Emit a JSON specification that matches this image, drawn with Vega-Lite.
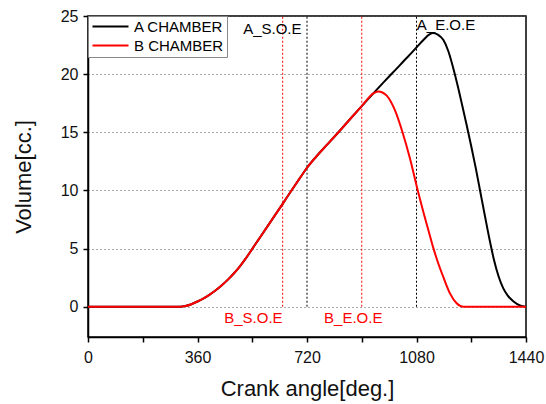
{
  "$schema": "https://vega.github.io/schema/vega-lite/v6.json",
  "width": 438,
  "height": 321,
  "autosize": "none",
  "padding": {"left": 88, "top": 16, "right": 20, "bottom": 67},
  "background": "white",
  "config": {
    "font": "Liberation Sans",
    "view": {"stroke": "black", "strokeWidth": 1.5},
    "axis": {
      "domainColor": "black",
      "domainWidth": 1.5,
      "tickColor": "black",
      "tickWidth": 1.5,
      "tickSize": 5,
      "labelFont": "Liberation Sans",
      "labelFontSize": 16,
      "labelColor": "#111",
      "titleFont": "Liberation Sans",
      "titleFontSize": 22,
      "titleFontWeight": "normal",
      "titleColor": "#111"
    }
  },
  "datasets": {
    "curves": [
      {"angle": 0, "volume": 0, "series": "A CHAMBER"},
      {"angle": 302, "volume": 0, "series": "A CHAMBER"},
      {"angle": 320, "volume": 0.06, "series": "A CHAMBER"},
      {"angle": 340, "volume": 0.22, "series": "A CHAMBER"},
      {"angle": 360, "volume": 0.45, "series": "A CHAMBER"},
      {"angle": 380, "volume": 0.72, "series": "A CHAMBER"},
      {"angle": 400, "volume": 1.05, "series": "A CHAMBER"},
      {"angle": 420, "volume": 1.42, "series": "A CHAMBER"},
      {"angle": 440, "volume": 1.85, "series": "A CHAMBER"},
      {"angle": 460, "volume": 2.33, "series": "A CHAMBER"},
      {"angle": 480, "volume": 2.88, "series": "A CHAMBER"},
      {"angle": 500, "volume": 3.5, "series": "A CHAMBER"},
      {"angle": 520, "volume": 4.2, "series": "A CHAMBER"},
      {"angle": 540, "volume": 4.98, "series": "A CHAMBER"},
      {"angle": 560, "volume": 5.75, "series": "A CHAMBER"},
      {"angle": 580, "volume": 6.52, "series": "A CHAMBER"},
      {"angle": 600, "volume": 7.3, "series": "A CHAMBER"},
      {"angle": 640, "volume": 8.85, "series": "A CHAMBER"},
      {"angle": 669, "volume": 10.0, "series": "A CHAMBER"},
      {"angle": 697, "volume": 11.08, "series": "A CHAMBER"},
      {"angle": 720, "volume": 11.95, "series": "A CHAMBER"},
      {"angle": 750, "volume": 12.9, "series": "A CHAMBER"},
      {"angle": 790, "volume": 14.05, "series": "A CHAMBER"},
      {"angle": 830, "volume": 15.2, "series": "A CHAMBER"},
      {"angle": 870, "volume": 16.38, "series": "A CHAMBER"},
      {"angle": 900, "volume": 17.25, "series": "A CHAMBER"},
      {"angle": 938, "volume": 18.35, "series": "A CHAMBER"},
      {"angle": 970, "volume": 19.25, "series": "A CHAMBER"},
      {"angle": 1010, "volume": 20.35, "series": "A CHAMBER"},
      {"angle": 1050, "volume": 21.45, "series": "A CHAMBER"},
      {"angle": 1080, "volume": 22.3, "series": "A CHAMBER"},
      {"angle": 1105, "volume": 23.0, "series": "A CHAMBER"},
      {"angle": 1120, "volume": 23.38, "series": "A CHAMBER"},
      {"angle": 1133, "volume": 23.54, "series": "A CHAMBER"},
      {"angle": 1150, "volume": 23.4, "series": "A CHAMBER"},
      {"angle": 1168, "volume": 22.95, "series": "A CHAMBER"},
      {"angle": 1185, "volume": 21.95, "series": "A CHAMBER"},
      {"angle": 1200, "volume": 20.6, "series": "A CHAMBER"},
      {"angle": 1215, "volume": 19.05, "series": "A CHAMBER"},
      {"angle": 1230, "volume": 17.35, "series": "A CHAMBER"},
      {"angle": 1245, "volume": 15.6, "series": "A CHAMBER"},
      {"angle": 1260, "volume": 13.8, "series": "A CHAMBER"},
      {"angle": 1275, "volume": 11.9, "series": "A CHAMBER"},
      {"angle": 1290, "volume": 9.85, "series": "A CHAMBER"},
      {"angle": 1305, "volume": 7.8, "series": "A CHAMBER"},
      {"angle": 1320, "volume": 5.8, "series": "A CHAMBER"},
      {"angle": 1335, "volume": 4.0, "series": "A CHAMBER"},
      {"angle": 1350, "volume": 2.6, "series": "A CHAMBER"},
      {"angle": 1365, "volume": 1.6, "series": "A CHAMBER"},
      {"angle": 1380, "volume": 0.95, "series": "A CHAMBER"},
      {"angle": 1398, "volume": 0.48, "series": "A CHAMBER"},
      {"angle": 1420, "volume": 0.12, "series": "A CHAMBER"},
      {"angle": 1440, "volume": 0, "series": "A CHAMBER"},
      {"angle": 0, "volume": 0, "series": "B CHAMBER"},
      {"angle": 302, "volume": 0, "series": "B CHAMBER"},
      {"angle": 320, "volume": 0.06, "series": "B CHAMBER"},
      {"angle": 340, "volume": 0.22, "series": "B CHAMBER"},
      {"angle": 360, "volume": 0.45, "series": "B CHAMBER"},
      {"angle": 380, "volume": 0.72, "series": "B CHAMBER"},
      {"angle": 400, "volume": 1.05, "series": "B CHAMBER"},
      {"angle": 420, "volume": 1.42, "series": "B CHAMBER"},
      {"angle": 440, "volume": 1.85, "series": "B CHAMBER"},
      {"angle": 460, "volume": 2.33, "series": "B CHAMBER"},
      {"angle": 480, "volume": 2.88, "series": "B CHAMBER"},
      {"angle": 500, "volume": 3.5, "series": "B CHAMBER"},
      {"angle": 520, "volume": 4.2, "series": "B CHAMBER"},
      {"angle": 540, "volume": 4.98, "series": "B CHAMBER"},
      {"angle": 560, "volume": 5.75, "series": "B CHAMBER"},
      {"angle": 580, "volume": 6.52, "series": "B CHAMBER"},
      {"angle": 600, "volume": 7.3, "series": "B CHAMBER"},
      {"angle": 640, "volume": 8.85, "series": "B CHAMBER"},
      {"angle": 669, "volume": 10.0, "series": "B CHAMBER"},
      {"angle": 697, "volume": 11.08, "series": "B CHAMBER"},
      {"angle": 720, "volume": 11.95, "series": "B CHAMBER"},
      {"angle": 750, "volume": 12.9, "series": "B CHAMBER"},
      {"angle": 790, "volume": 14.05, "series": "B CHAMBER"},
      {"angle": 830, "volume": 15.2, "series": "B CHAMBER"},
      {"angle": 870, "volume": 16.38, "series": "B CHAMBER"},
      {"angle": 900, "volume": 17.25, "series": "B CHAMBER"},
      {"angle": 938, "volume": 18.35, "series": "B CHAMBER"},
      {"angle": 954, "volume": 18.5, "series": "B CHAMBER"},
      {"angle": 968, "volume": 18.42, "series": "B CHAMBER"},
      {"angle": 982, "volume": 18.15, "series": "B CHAMBER"},
      {"angle": 1009, "volume": 16.9, "series": "B CHAMBER"},
      {"angle": 1034, "volume": 15.0, "series": "B CHAMBER"},
      {"angle": 1059, "volume": 12.7, "series": "B CHAMBER"},
      {"angle": 1084, "volume": 10.0, "series": "B CHAMBER"},
      {"angle": 1103, "volume": 8.1, "series": "B CHAMBER"},
      {"angle": 1120, "volume": 6.5, "series": "B CHAMBER"},
      {"angle": 1136, "volume": 5.0, "series": "B CHAMBER"},
      {"angle": 1150, "volume": 3.85, "series": "B CHAMBER"},
      {"angle": 1169, "volume": 2.5, "series": "B CHAMBER"},
      {"angle": 1190, "volume": 1.15, "series": "B CHAMBER"},
      {"angle": 1212, "volume": 0.3, "series": "B CHAMBER"},
      {"angle": 1234, "volume": 0, "series": "B CHAMBER"},
      {"angle": 1440, "volume": 0, "series": "B CHAMBER"}
    ],
    "blackRules": [{"angle": 720, "bottom": 0, "top": 25}, {"angle": 1080, "bottom": 0, "top": 25}],
    "redRules": [{"angle": 640, "bottom": 0, "top": 25}, {"angle": 900, "bottom": 0, "top": 25}],
    "blackLabels": [{"angle": 510, "volume": 23.9, "label": "A_S.O.E"}, {"angle": 1081, "volume": 24.2, "label": "A_E.O.E"}],
    "redLabels": [{"angle": 448, "volume": -0.95, "label": "B_S.O.E"}, {"angle": 776, "volume": -0.95, "label": "B_E.O.E"}]
  },
  "layer": [
    {
      "data": {"name": "blackRules"},
      "mark": {"type": "rule", "color": "black", "strokeDash": [2, 2], "strokeWidth": 1},
      "encoding": {
        "x": {"field": "angle", "type": "quantitative", "scale": {"domain": [0, 1440], "nice": false}},
        "y": {"field": "bottom", "type": "quantitative", "scale": {"domain": [-2.6, 25], "nice": false, "zero": false}},
        "y2": {"field": "top"}
      }
    },
    {
      "data": {"name": "redRules"},
      "mark": {"type": "rule", "color": "red", "strokeDash": [2, 2], "strokeWidth": 1},
      "encoding": {
        "x": {"field": "angle", "type": "quantitative"},
        "y": {"field": "bottom", "type": "quantitative"},
        "y2": {"field": "top"}
      }
    },
    {
      "data": {"name": "blackLabels"},
      "mark": {"type": "text", "align": "left", "baseline": "middle", "fontSize": 15, "color": "black", "font": "Liberation Sans"},
      "encoding": {
        "x": {"field": "angle", "type": "quantitative"},
        "y": {"field": "volume", "type": "quantitative"},
        "text": {"field": "label"}
      }
    },
    {
      "data": {"name": "redLabels"},
      "mark": {"type": "text", "align": "left", "baseline": "middle", "fontSize": 15, "color": "red", "font": "Liberation Sans"},
      "encoding": {
        "x": {"field": "angle", "type": "quantitative"},
        "y": {"field": "volume", "type": "quantitative"},
        "text": {"field": "label"}
      }
    },
    {
      "data": {"name": "curves"},
      "mark": {"type": "line", "strokeWidth": 2, "interpolate": "monotone"},
      "encoding": {
        "x": {
          "field": "angle", "type": "quantitative",
          "title": "Crank angle[deg.]",
          "axis": {
            "values": [0, 180, 360, 540, 720, 900, 1080, 1260, 1440],
            "labelExpr": "datum.value % 360 === 0 ? datum.label : ''",
            "format": "d",
            "grid": false,
            "labelPadding": 7,
            "titlePadding": 13,
            "labelFlush": false
          }
        },
        "y": {
          "field": "volume", "type": "quantitative",
          "title": "Volume[cc.]",
          "axis": {
            "values": [0, 2.5, 5, 7.5, 10, 12.5, 15, 17.5, 20, 22.5, 25],
            "labelExpr": "datum.value % 5 === 0 ? datum.label : ''",
            "format": "d",
            "grid": true,
            "gridColor": "#555",
            "gridDash": [1, 3],
            "gridWidth": 1,
            "gridOpacity": {"condition": {"test": "datum.value % 5 === 0", "value": 1}, "value": 0},
            "labelPadding": 5,
            "titlePadding": 25
          }
        },
        "color": {
          "field": "series", "type": "nominal",
          "scale": {"domain": ["A CHAMBER", "B CHAMBER"], "range": ["black", "red"]},
          "legend": {
            "title": null,
            "orient": "top-left",
            "offset": 0,
            "symbolType": "M-1,0H5",
            "symbolSize": 144,
            "symbolStrokeWidth": 2,
            "labelFontSize": 15,
            "labelFont": "Liberation Sans",
            "labelColor": "black",
            "labelOffset": 28,
            "rowPadding": 3,
            "padding": 3,
            "strokeColor": "#888",
            "fillColor": "white"
          }
        }
      }
    }
  ]
}
